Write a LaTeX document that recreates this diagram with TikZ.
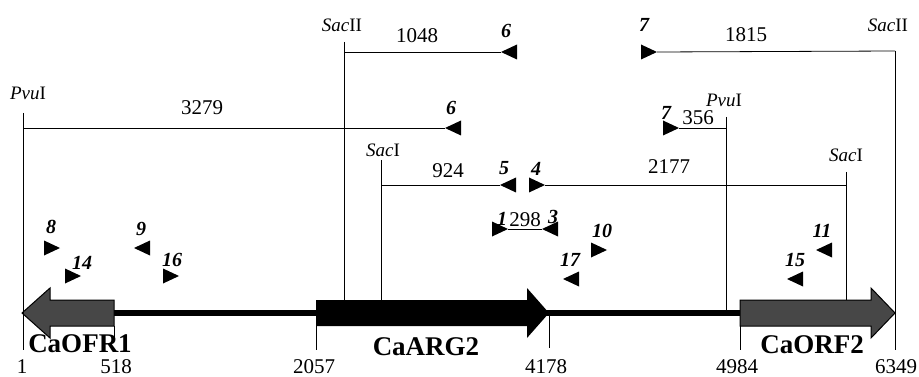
\documentclass[tikz,border=0pt]{standalone}
\usepackage{fontspec}
\setmainfont{Liberation Serif}
\usetikzlibrary{positioning}

\begin{document}
\begin{tikzpicture}[
        x=1pt, y=-1pt,
        every node/.style={inner sep=0pt},
        site/.style={font=\fontsize{19}{19}\selectfont},
        size/.style={font=\fontsize{21}{21}\selectfont},
        primer/.style={font=\fontsize{20}{20}\selectfont\bfseries\itshape},
        gene/.style={font=\fontsize{27}{27}\selectfont\bfseries},
        cut/.style={line width=0.8pt},
        hatched/.style={fill=black!72, draw=black, line width=1pt},
        fwd/.pic={\fill (0,0) -- (-16,-7.5) -- (-16,7.5) -- cycle;},
        rev/.pic={\fill (0,0) -- (16,-7.5) -- (16,7.5) -- cycle;}
    ]
    \useasboundingbox (0,0) rectangle (919,377);

    % backbone and genes
    \coordinate (bbL) at (114,313);
    \coordinate (bbR) at (740,313);
    \draw[line width=5.5pt] (bbL) -- (bbR);
    \path[hatched] (114,300) -- (50,300) -- (50,288) -- (22,313) -- (50,338) -- (50,326) -- (114,326) -- cycle;
    \fill (316,300) -- (527,300) -- (527,288) -- (549,313) -- (527,338) -- (527,326) -- (316,326) -- cycle;
    \path[hatched] (740,300) -- (871,300) -- (871,288) -- (895,313) -- (871,338) -- (871,326) -- (740,326) -- cycle;

    % restriction sites
    \coordinate (pvuL) at (23,113);   \coordinate (pvuLb) at (23,350);
    \coordinate (sacIIL) at (344,42); \coordinate (sacIILb) at (344,300);
    \coordinate (sacIL) at (381,160); \coordinate (sacILb) at (381,300);
    \coordinate (pvuR) at (726,117);  \coordinate (pvuRb) at (726,313);
    \coordinate (sacIR) at (846,172); \coordinate (sacIRb) at (846,300);
    \coordinate (sacIIR) at (895,51); \coordinate (sacIIRb) at (895,350);
    \foreach \s in {pvuL, sacIIL, sacIL, pvuR, sacIR, sacIIR}
        \draw[cut] (\s) -- (\s b);

    \node[site] (lbl-sacIIL) at (342,25)  {\textit{Sac}II};
    \node[site] (lbl-pvuL)   at (28,93)   {\textit{Pvu}I};
    \node[site] (lbl-sacIL)  at (383,150) {\textit{Sac}I};
    \node[site] (lbl-sacIIR) at (888,25)  {\textit{Sac}II};
    \node[site] (lbl-pvuR)   at (724,100) {\textit{Pvu}I};
    \node[site] (lbl-sacIR)  at (846,155) {\textit{Sac}I};

    % primers (tip coordinates)
    \coordinate (p6a) at (501,52);  \coordinate (p7a) at (657,52);
    \coordinate (p6b) at (445,128); \coordinate (p7b) at (679,128);
    \coordinate (p5) at (500,185);  \coordinate (p4) at (545,185);
    \coordinate (p1) at (508,229);  \coordinate (p3) at (542,229);
    \coordinate (p10) at (607,250); \coordinate (p17) at (563,279);
    \coordinate (p8) at (60,248);   \coordinate (p9) at (134,248);
    \coordinate (p14) at (81,276);  \coordinate (p16) at (179,276);
    \coordinate (p11) at (816,250); \coordinate (p15) at (787,279);
    \foreach \p in {p7a, p7b, p4, p1, p10, p8, p14, p16}
        \pic at (\p) {fwd};
    \foreach \p in {p6a, p6b, p5, p3, p17, p9, p11, p15}
        \pic at (\p) {rev};

    \node[primer] (lbl-6a) at (506,31)  {6};
    \node[primer] (lbl-7a) at (644,25)  {7};
    \node[primer] (lbl-6b) at (451,108) {6};
    \node[primer] (lbl-7b) at (666,113) {7};
    \node[primer] (lbl-5)  at (504,168) {5};
    \node[primer] (lbl-4)  at (536,169) {4};
    \node[primer] (lbl-1)  at (502,219) {1};
    \node[primer] (lbl-3)  at (553,217) {3};
    \node[primer] (lbl-10) at (602,231) {10};
    \node[primer] (lbl-17) at (570,260) {17};
    \node[primer] (lbl-8)  at (51,227)  {8};
    \node[primer] (lbl-9)  at (141,229) {9};
    \node[primer] (lbl-14) at (82,263)  {14};
    \node[primer] (lbl-16) at (172,260) {16};
    \node[primer] (lbl-11) at (822,231) {11};
    \node[primer] (lbl-15) at (795,260) {15};

    % fragments
    \draw[cut] (sacIIL |- p6a) -- (p6a);
    \draw[cut] (p7a) -- (sacIIR);
    \draw[cut] (pvuL |- p6b) -- (p6b);
    \draw[cut] (p7b) -- (pvuR |- p7b);
    \draw[cut] (sacIL |- p5) -- (p5);
    \draw[cut] (p4) -- (sacIR |- p4);
    \draw[cut] (p1) -- (p3);

    \node[size] (len1048) at (417,36)  {1048};
    \node[size] (len1815) at (746,35)  {1815};
    \node[size] (len3279) at (202,108) {3279};
    \node[size] (len356)  at (698,118) {356};
    \node[size] (len924)  at (448,171) {924};
    \node[size] (len2177) at (669,167) {2177};
    \node[size] (len298)  at (525,220) {298};

    % coordinates along the map
    \draw[cut] (114,326) -- (114,340);
    \draw[cut] (316,326) -- (316,350);
    \draw[cut] (549,313) -- (549,348);
    \draw[cut] (740,326) -- (740,350);

    \node[size] (pos1)    at (22,367)  {1};
    \node[size] (pos518)  at (116,367) {518};
    \node[size] (pos2057) at (314,367) {2057};
    \node[size] (pos4178) at (546,367) {4178};
    \node[size] (pos4984) at (737,367) {4984};
    \node[size] (pos6349) at (896,367) {6349};

    \node[gene] (gene-orf1) at (80,344)  {CaOFR1};
    \node[gene] (gene-arg2) at (426,347) {CaARG2};
    \node[gene] (gene-orf2) at (812,345) {CaORF2};
\end{tikzpicture}
\end{document}
